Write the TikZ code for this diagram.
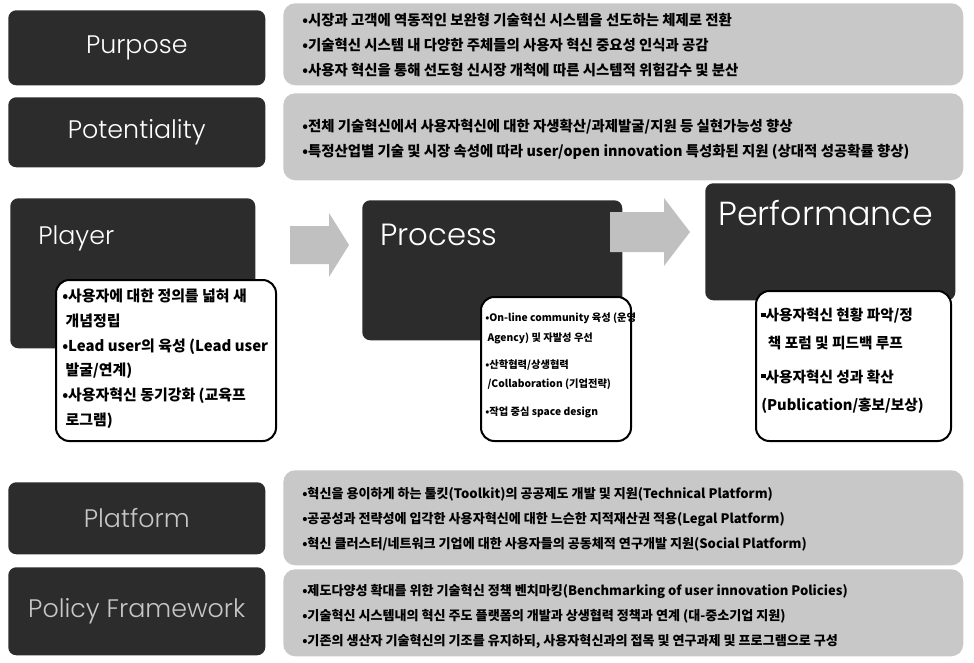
\documentclass[tikz,border=0pt]{standalone}
\usepackage{fontspec}
\setmainfont{Noto Sans CJK KR}
\newfontfamily\titlefont{Poppins}[UprightFont={* Light}]
\usetikzlibrary{positioning}

\definecolor{darkfill}{HTML}{2C2C2C}
\definecolor{notefill}{HTML}{C8C8C8}
\definecolor{flowfill}{HTML}{C0C0C0}

% small square bullet for the performance box
\newcommand{\sqbul}{\raisebox{0.25em}{\rule{0.3em}{0.3em}}}

\begin{document}
\begin{tikzpicture}[x=0.75pt,y=-0.75pt,
  size/.style 2 args={minimum width=#1*0.75pt, minimum height=#2*0.75pt},
  darkbox/.style={fill=darkfill, rounded corners=6pt, inner sep=0pt, anchor=north west},
  notebox/.style={fill=notefill, rounded corners=9pt, inner sep=0pt, anchor=north west},
  whitebox/.style={fill=white, draw=black, line width=1.5pt, rounded corners=10pt, inner sep=0pt, anchor=north west},
  title/.style={font=\titlefont\fontsize{19}{22}\selectfont, text=white, inner sep=0pt},
  subtitle/.style={font=\titlefont\fontsize{19}{22}\selectfont, text=black!22, inner sep=0pt},
  notes/.style={font=\bfseries\fontsize{10.8}{18.75}\selectfont, align=left, anchor=west, inner sep=0pt},
  smallnotes/.style={font=\bfseries\fontsize{9.8}{18.75}\selectfont, align=left, anchor=west, inner sep=0pt},
  cardtext/.style={font=\bfseries\fontsize{11.2}{18.5}\selectfont, align=left, anchor=north west, inner sep=0pt},
  cardsmall/.style={font=\bfseries\fontsize{7.7}{14.5}\selectfont, align=left, anchor=north west, inner sep=0pt},
  cardlarge/.style={font=\bfseries\fontsize{11}{21}\selectfont, align=left, anchor=north west, inner sep=0pt},
  flow/.style={fill=flowfill}
]
\useasboundingbox (0,0) rectangle (974,663);

% ---- Purpose ----
\node[darkbox, size={257}{75}] (purpose) at (8,10) {};
\node[title] (purposeT) at (purpose.center) {Purpose};
\node[notebox, size={680}{82}] (purposeN) at (283,3) {};
\node[notes] (purposeL) at (302,45) {%
•시장과 고객에 역동적인 보완형 기술혁신 시스템을 선도하는 체제로 전환\\
•기술혁신 시스템 내 다양한 주체들의 사용자 혁신 중요성 인식과 공감\\
•사용자 혁신을 통해 선도형 신시장 개척에 따른 시스템적 위험감수 및 분산};

% ---- Potentiality ----
\node[darkbox, size={257}{70}] (potent) at (8,97) {};
\node[title] (potentT) at (potent.center) {Potentiality};
\node[notebox, size={680}{87}] (potentN) at (283,93) {};
\node[notes] (potentL) at (302,139) {%
•전체 기술혁신에서 사용자혁신에 대한 자생확산/과제발굴/지원 등 실현가능성 향상\\
•특정산업별 기술 및 시장 속성에 따라 user/open innovation 특성화된 지원 (상대적 성공확률 향상)};

% ---- Player ----
\node[darkbox, size={245}{150}] (player) at (10,198) {};
\node[title, anchor=west] (playerT) at (38,238) {Player};
\node[whitebox, size={220}{161}] (playerN) at (55,279) {};
\node[cardtext] (playerL) at (62,289) {%
•사용자에 대한 정의를 넓혀 새\\
\ 개념정립\\
•Lead user의 육성 (Lead user\\
\ 발굴/연계)\\
•사용자혁신 동기강화 (교육프\\
\ 로그램)};

% ---- Process ----
\node[darkbox, size={260}{140}] (process) at (362,200) {};
\node[title, anchor=west, font=\titlefont\fontsize{23}{26}\selectfont] (processT) at (380,235) {Process};
\node[whitebox, size={150}{144}] (processN) at (480,296) {};
\node[cardsmall] (processL) at (485,313) {%
•On-line community 육성 (운영\\
\ Agency) 및 자발성 우선\\[6pt]
•산학협력/상생협력\\
\ /Collaboration (기업전략)\\[6pt]
•작업 중심 space design};

% ---- Performance ----
\node[darkbox, size={250}{117}] (perf) at (705,183) {};
\node[title, anchor=west, font=\titlefont\fontsize{25}{28}\selectfont] (perfT) at (718,213) {Performance};
\node[whitebox, size={195}{150}] (perfN) at (755,290) {};
\node[cardlarge] (perfL) at (761,308) {%
\sqbul 사용자혁신 현황 파악/정\\
\ \ 책 포럼 및 피드백 루프\\[4pt]
\sqbul 사용자혁신 성과 확산\\
(Publication/홍보/보상)};

% ---- flow arrows between the stages ----
\fill[flow] (290,226) -- (329,226) -- (329,213) -- (349,245) -- (329,277) -- (329,264) -- (290,264) -- cycle;
\fill[flow] (610,212) -- (664,212) -- (664,198) -- (690,232) -- (664,266) -- (664,252) -- (610,252) -- cycle;

% ---- Platform ----
\node[darkbox, size={257}{72}] (platform) at (8,482) {};
\node[subtitle] (platformT) at (platform.center) {Platform};
\node[notebox, size={680}{95}] (platformN) at (283,470) {};
\node[smallnotes] (platformL) at (302,519) {%
•혁신을 용이하게 하는 툴킷(Toolkit)의 공공제도 개발 및 지원(Technical Platform)\\
•공공성과 전략성에 입각한 사용자혁신에 대한 느슨한 지적재산권 적용(Legal Platform)\\
•혁신 클러스터/네트워크 기업에 대한 사용자들의 공동체적 연구개발 지원(Social Platform)};

% ---- Policy Framework ----
\node[darkbox, size={257}{88}] (policy) at (8,567) {};
\node[subtitle] (policyT) at (policy.center) {Policy Framework};
\node[notebox, size={680}{87}] (policyN) at (283,569) {};
\node[smallnotes] (policyL) at (302,616) {%
•제도다양성 확대를 위한 기술혁신 정책 벤치마킹(Benchmarking of user innovation Policies)\\
•기술혁신 시스템내의 혁신 주도 플랫폼의 개발과 상생협력 정책과 연계 (대-중소기업 지원)\\
•기존의 생산자 기술혁신의 기조를 유지하되, 사용자혁신과의 접목 및 연구과제 및 프로그램으로 구성};
\end{tikzpicture}
\end{document}
